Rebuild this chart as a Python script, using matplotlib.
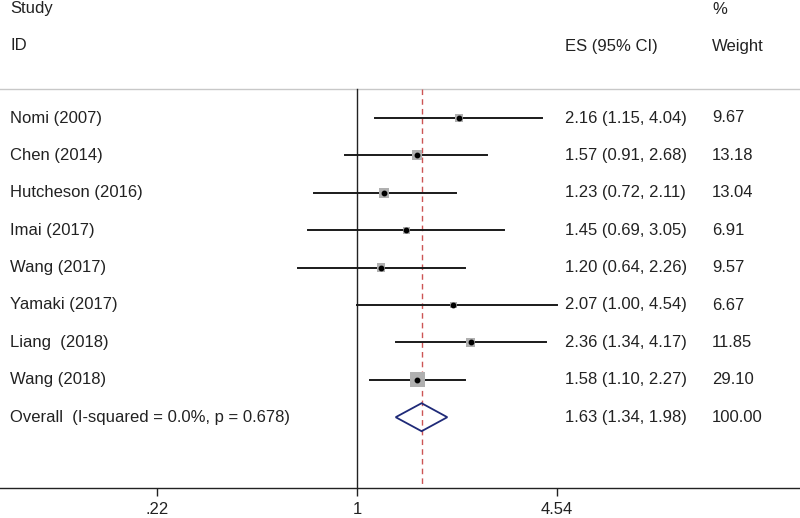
import matplotlib
matplotlib.use('Agg')
import matplotlib.pyplot as plt
import numpy as np

# study data
studies = ['Nomi (2007)', 'Chen (2014)', 'Hutcheson (2016)', 'Imai (2017)',
           'Wang (2017)', 'Yamaki (2017)', 'Liang  (2018)', 'Wang (2018)']
es = [2.16, 1.57, 1.23, 1.45, 1.20, 2.07, 2.36, 1.58]
lo = [1.15, 0.91, 0.72, 0.69, 0.64, 1.00, 1.34, 1.10]
hi = [4.04, 2.68, 2.11, 3.05, 2.26, 4.54, 4.17, 2.27]
weights = [9.67, 13.18, 13.04, 6.91, 9.57, 6.67, 11.85, 29.10]

overall_label = 'Overall  (I-squared = 0.0%, p = 0.678)'
overall_es, overall_lo, overall_hi = 1.63, 1.34, 1.98
overall_weight = 100.00

tick_vals = [0.22, 1, 4.54]
tick_labels = ['.22', '1', '4.54']

plt.rcParams['font.family'] = ['Liberation Sans', 'DejaVu Sans']

W, H = 800, 518
fig = plt.figure(figsize=(W / 100, H / 100), dpi=100)
axis_px = 488  # pixel row of the x axis line
ax = fig.add_axes([0, (H - axis_px) / H, 1, axis_px / H])

# x: log scale, 1 at pixel 357, 132.2 px per log unit
px_per = 132.2
x0 = 357
ax.set_xscale('log')
ax.set_xlim(np.exp(-x0 / px_per), np.exp((W - x0) / px_per))

# y: rows every 37.4 px starting at pixel 118
row0, dy = 118, 37.4
def ypix(p):
    return (p - row0) / dy
ax.set_ylim(ypix(axis_px), ypix(0))

for s in ['top', 'left', 'right']:
    ax.spines[s].set_visible(False)
ax.spines['bottom'].set_color('#222222')
ax.spines['bottom'].set_linewidth(1.0)
ax.set_yticks([])
ax.set_xticks(tick_vals)
ax.set_xticklabels(tick_labels)
ax.minorticks_off()
ax.tick_params(axis='x', direction='out', length=6, width=1.0, color='#222222',
               labelsize=12, labelcolor='#222222', pad=4)

fs = 12
txt = dict(fontsize=fs, color='#222222', va='center')
tr = ax.get_yaxis_transform()  # x in axes fraction, y in data
lx, esx, wx = 10 / W, 565 / W, 712 / W

# headers
ax.text(lx, ypix(9), 'Study', transform=tr, **txt)
ax.text(lx, ypix(46), 'ID', transform=tr, **txt)
ax.text(wx, ypix(9), '%', transform=tr, **txt)
ax.text(esx, ypix(46), 'ES (95% CI)', transform=tr, **txt)
ax.text(wx, ypix(46), 'Weight', transform=tr, **txt)
ax.axhline(ypix(89), color='#c8c8c8', lw=1.0)

# null line and overall line
ax.plot([1, 1], [ypix(89), ypix(axis_px)], color='#222222', lw=1.0)
ax.plot([overall_es, overall_es], [ypix(89), ypix(axis_px)], color='#cc5555',
        lw=1.0, ls=(0, (4, 3)))

for i, name in enumerate(studies):
    ax.plot([lo[i], hi[i]], [i, i], color='#1a1a1a', lw=1.4, zorder=2)
    ax.scatter(es[i], i, marker='s', s=3.8 * weights[i], color='#b0b0b0',
               edgecolors='none', zorder=3)
    ax.plot(es[i], i, 'o', color='black', ms=3.2, zorder=4)
    ax.text(lx, i, name, transform=tr, **txt)
    ax.text(esx, i, '%.2f (%.2f, %.2f)' % (es[i], lo[i], hi[i]), transform=tr, **txt)
    ax.text(wx, i, '%.2f' % weights[i], transform=tr, **txt)

k = len(studies)
dh = 14 / dy
ax.fill([overall_lo, overall_es, overall_hi, overall_es, overall_lo],
        [k, k - dh, k, k + dh, k], facecolor='none', edgecolor='#1f2a78', lw=1.3,
        zorder=3)
ax.text(lx, k, overall_label, transform=tr, **txt)
ax.text(esx, k, '%.2f (%.2f, %.2f)' % (overall_es, overall_lo, overall_hi),
        transform=tr, **txt)
ax.text(wx, k, '%.2f' % overall_weight, transform=tr, **txt)

plt.savefig('out.png', dpi=100)
